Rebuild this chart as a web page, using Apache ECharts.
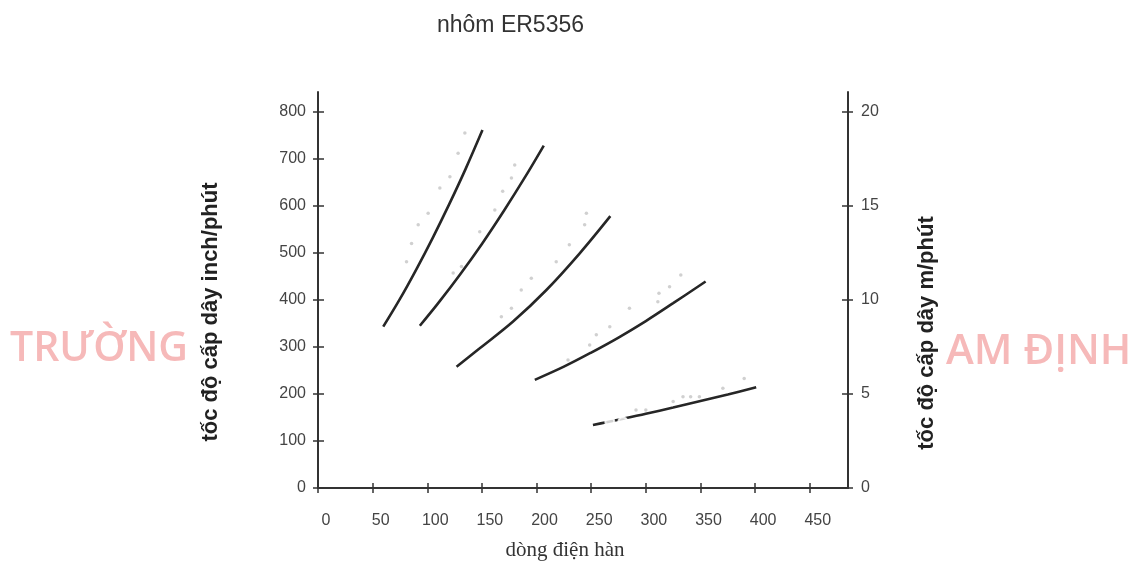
<!DOCTYPE html>
<html>
<head>
<meta charset="utf-8">
<script src="https://cdn.jsdelivr.net/npm/echarts@6/dist/echarts.min.js"></script>
<style>html,body{margin:0;padding:0;background:#fff}#c{width:1138px;height:562px}</style>
</head>
<body>
<div id="c"></div>
<script>
const chartTitle = 'nhôm ER5356';
const xName = 'dòng điện hàn';
const yLeftName = 'tốc độ cấp dây inch/phút';
const yRightName = 'tốc độ cấp dây m/phút';
const xTicks = [0, 50, 100, 150, 200, 250, 300, 350, 400, 450];
const yLeftTicks = [0, 100, 200, 300, 400, 500, 600, 700, 800];
const yRightTicks = [0, 5, 10, 15, 20];
const xMax = 485;
const yLeftMax = 842;
const yRightMax = yLeftMax / 40;

// welding current (A) vs wire feed speed (inch/min)
const curve1 = [[59.7, 343], [75, 402], [90, 465], [105, 532], [120, 603], [135, 678], [150.5, 761]];
const curve2 = [[93.2, 345], [110, 393], [130, 454], [150, 519], [170, 589], [190, 663], [206.6, 728]];
const curve3 = [[126.8, 258], [148, 297], [178.5, 354], [209, 421], [239.5, 499], [267.5, 578]];
const curve4 = [[198.4, 230], [225, 258], [250, 288], [275, 320], [300, 355], [325, 393], [354.7, 439]];
const curve5 = [[251.6, 134], [275, 145], [300, 158], [325, 171], [350, 185], [375, 199], [401, 214]];
const curves = [curve1, curve2, curve3, curve4, curve5];

// faint annotation marks printed beside the curves
const marks = [
  [81, 481], [85.6, 520], [91.7, 560], [100.8, 584], [111.5, 638], [120.7, 662], [128.2, 712], [134.4, 755],
  [123.7, 457], [131.3, 471], [148, 545], [161.8, 591], [169, 631], [177, 659], [180, 687],
  [167.8, 364], [177, 382], [186, 421], [195.2, 446], [218, 481], [230, 517], [244, 560], [245.6, 584],
  [228.8, 272], [248.6, 304], [254.7, 326], [267, 343], [285, 382], [311, 396], [312, 414], [321.7, 428], [332, 453],
  [291, 166], [300, 166], [325, 184], [334, 194], [341, 194], [349, 194], [370.5, 212], [390, 233]
];
const darkMarks = [[267, 141], [279, 141]];

const axisColor = '#333';
const labelStyle = {color: '#444', fontSize: 16, fontFamily: 'Liberation Sans, Arial, sans-serif'};
const tickStyle = {color: axisColor, width: 1.5};

const chart = echarts.init(document.getElementById('c'));
chart.setOption({
  animation: false,
  backgroundColor: '#fff',
  title: {
    text: chartTitle, left: 432, top: 9,
    textStyle: {color: '#333', fontSize: 23, fontWeight: 'normal', fontFamily: 'Liberation Sans, Arial, sans-serif'}
  },
  graphic: [
    {type: 'text', left: 10, top: 329, z: -1, style: {text: 'TRƯỜNG', fill: '#f6b9b9', fontSize: 41, fontWeight: 600, fontFamily: 'Open Sans, sans-serif'}},
    {type: 'text', left: 946, top: 331, z: -1, style: {text: 'AM ĐỊNH', fill: '#f6b9b9', fontSize: 42, fontWeight: 600, fontFamily: 'Open Sans, sans-serif'}}
  ],
  grid: {left: 318, right: 290, top: 92, bottom: 74, containLabel: false, outerBoundsMode: 'none'},
  xAxis: [
    {
      type: 'value', min: 0, max: xMax, position: 'bottom',
      axisLine: {show: true, onZero: false, lineStyle: {color: axisColor, width: 2}},
      axisTick: {show: true, customValues: xTicks, length: 5, lineStyle: tickStyle},
      axisLabel: Object.assign({customValues: xTicks, margin: 25, padding: [0, 0, 0, 16]}, labelStyle),
      splitLine: {show: false},
      name: xName, nameLocation: 'middle', nameGap: 52,
      nameTextStyle: {fontFamily: 'Liberation Serif, DejaVu Serif, serif', fontSize: 21, color: '#333', padding: [0, 36, 0, 0]}
    },
    {
      type: 'value', min: 0, max: xMax, position: 'bottom',
      axisLine: {show: false, onZero: false},
      axisTick: {show: true, inside: true, customValues: xTicks, length: 5, lineStyle: tickStyle},
      axisLabel: {show: false}, splitLine: {show: false}
    }
  ],
  yAxis: [
    {
      type: 'value', min: 0, max: yLeftMax, position: 'left',
      axisLine: {show: true, onZero: false, lineStyle: {color: axisColor, width: 2}},
      axisTick: {show: true, customValues: yLeftTicks, length: 5, lineStyle: tickStyle},
      axisLabel: Object.assign({customValues: yLeftTicks, margin: 12}, labelStyle),
      splitLine: {show: false},
      name: yLeftName, nameLocation: 'middle', nameGap: 96, nameRotate: 90,
      nameTextStyle: {color: '#222', fontSize: 22, fontWeight: 'bold', fontFamily: 'Liberation Sans, Arial, sans-serif', padding: [0, 44, 0, 0]}
    },
    {
      type: 'value', min: 0, max: yRightMax, position: 'right',
      axisLine: {show: true, onZero: false, lineStyle: {color: axisColor, width: 2}},
      axisTick: {show: true, customValues: yRightTicks, length: 5, lineStyle: tickStyle},
      axisLabel: Object.assign({customValues: yRightTicks, margin: 13}, labelStyle),
      splitLine: {show: false},
      name: yRightName, nameLocation: 'middle', nameGap: 68, nameRotate: 90,
      nameTextStyle: {color: '#222', fontSize: 22, fontWeight: 'bold', fontFamily: 'Liberation Sans, Arial, sans-serif', padding: [0, 86, 0, 0]}
    },
    {
      type: 'value', min: 0, max: yLeftMax, position: 'left',
      axisLine: {show: false, onZero: false},
      axisTick: {show: true, inside: true, customValues: yLeftTicks, length: 6, lineStyle: tickStyle},
      axisLabel: {show: false}, splitLine: {show: false}
    },
    {
      type: 'value', min: 0, max: yRightMax, position: 'right',
      axisLine: {show: false, onZero: false},
      axisTick: {show: true, inside: true, customValues: yRightTicks, length: 6, lineStyle: tickStyle},
      axisLabel: {show: false}, splitLine: {show: false}
    }
  ],
  series: curves.map((d, i) => ({
    type: 'line', name: 'c' + (i + 1), data: d, xAxisIndex: 0, yAxisIndex: 0,
    smooth: 0.35, showSymbol: false, symbol: 'none', z: 3,
    lineStyle: {color: '#262626', width: 2.6}
  })).concat([
    {type: 'scatter', name: 'ghi chú', data: marks, xAxisIndex: 0, yAxisIndex: 0, symbol: 'circle', symbolSize: 3.5,
     itemStyle: {color: '#c4c4c4'}, z: 2},
    {type: 'scatter', name: 'ghi chú 2', data: darkMarks, xAxisIndex: 0, yAxisIndex: 0, symbol: 'emptyCircle', symbolSize: 9,
     itemStyle: {color: '#fff', borderColor: '#555', borderWidth: 1.5}, z: 4}
  ])
});
</script>
</body>
</html>
